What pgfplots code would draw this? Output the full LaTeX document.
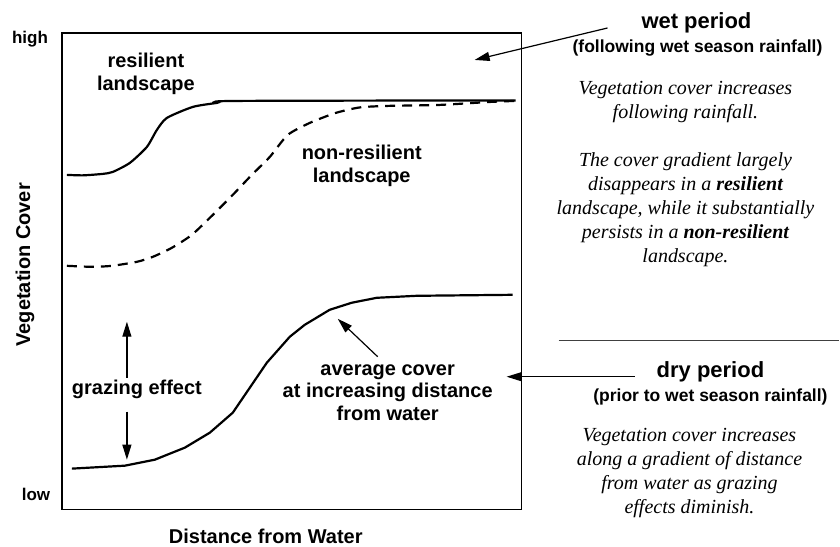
\documentclass[border=0pt]{standalone}
\usepackage{fontspec}
\setmainfont{Liberation Serif}
\setsansfont{Liberation Sans}
\usepackage{pgfplots}
\pgfplotsset{compat=1.18}
\usetikzlibrary{arrows.meta}

% curves (x: distance, y: cover, both 0-100)
\pgfplotstableread{
x y
1.09 70.23
4.57 70.13
8.91 70.44
11.09 70.86
14.78 72.75
18.48 76.10
20.65 79.66
22.83 82.18
28.48 84.49
33.70 85.32
37.61 85.74
98.70 85.85
}\resilient

\pgfplotstableread{
x y
1.09 51.15
6.52 50.94
10.87 51.15
16.30 51.99
19.78 53.04
23.91 54.93
28.26 57.65
32.83 61.84
37.17 66.04
41.30 70.23
45.22 74.00
49.13 78.62
53.91 81.13
59.57 83.23
64.78 84.38
70.87 84.70
82.17 84.91
93.04 85.53
98.48 85.74
}\nonresilient

\pgfplotstableread{
x y
2.17 8.60
13.70 9.22
20.22 10.48
26.74 13.00
32.17 16.14
37.17 20.34
40.87 25.58
44.57 30.82
49.57 36.27
52.83 38.78
58.26 41.93
63.04 43.40
68.48 44.44
77.17 44.86
98.04 45.07
}\drycover

\begin{document}
\begin{tikzpicture}[
    lab/.style={font=\sffamily\bfseries\fontsize{20}{23}\selectfont, align=center, inner sep=0pt},
    note/.style={font=\itshape\fontsize{20}{24}\selectfont, align=center, inner sep=0pt},
    arr/.style={line width=1.2pt, -{Triangle[length=15pt,width=9pt]}}
]
\begin{scope}[x=1pt,y=-1pt]
\useasboundingbox (0,0) rectangle (840,547);
\end{scope}

\begin{axis}[
    at={(62pt,-510pt)}, anchor=south west,
    width=460pt, height=477pt, scale only axis,
    xmin=0, xmax=100, ymin=0, ymax=100,
    ticks=none,
    axis line style={line width=1.4pt},
    clip=false,
]
\addplot[line width=2.2pt, smooth, tension=0.4] table {\resilient};
\addplot[line width=2.2pt, smooth, tension=0.4, dash pattern=on 10pt off 7pt] table {\nonresilient};
\addplot[line width=2.2pt] table {\drycover};
\end{axis}

\begin{scope}[x=1pt,y=-1pt]
% axis annotations
\node[lab, font=\sffamily\bfseries\fontsize{17}{20}\selectfont] at (30,39) {high};
\node[lab, font=\sffamily\bfseries\fontsize{17}{20}\selectfont] at (36,495) {low};
\node[lab, rotate=90] at (25,265) {Vegetation Cover};
\node[lab] at (266,537) {Distance from Water};

% labels inside the plot
\node[lab] at (146,74) {resilient\\landscape};
\node[lab] at (362,166) {non-resilient\\landscape};
\node[lab] at (137,390) {grazing effect};
\node[lab] at (388,393) {average cover\\at increasing distance\\from water};

\draw[arr] (127,378) -- (127,322);
\draw[arr] (127,412) -- (127,460);
\draw[arr] (378,357) -- (338,319);

% wet period
\node[lab, font=\sffamily\bfseries\fontsize{22}{26}\selectfont] at (697,23) {wet period};
\node[lab, font=\sffamily\bfseries\fontsize{17.5}{21}\selectfont] at (698,48) {(following wet season rainfall)};
\draw[arr] (608,28) -- (475,60);
\node[note] at (686,174) {Vegetation cover increases\\following rainfall.\\[24pt]The cover gradient largely\\disappears in a {\bfseries resilient}\\landscape, while it substantially\\persists in a {\bfseries non-resilient}\\landscape.};

% dry period
\draw[line width=1.3pt, black!75] (559,341) -- (840,341);
\node[lab, font=\sffamily\bfseries\fontsize{22}{26}\selectfont] at (711,372) {dry period};
\node[lab, font=\sffamily\bfseries\fontsize{17.5}{21}\selectfont] at (711,397) {(prior to wet season rainfall)};
\draw[arr] (635,377) -- (507,377);
\node[note] at (690,473) {Vegetation cover increases\\along a gradient of distance\\from water as grazing\\effects diminish.};
\end{scope}
\end{tikzpicture}
\end{document}
